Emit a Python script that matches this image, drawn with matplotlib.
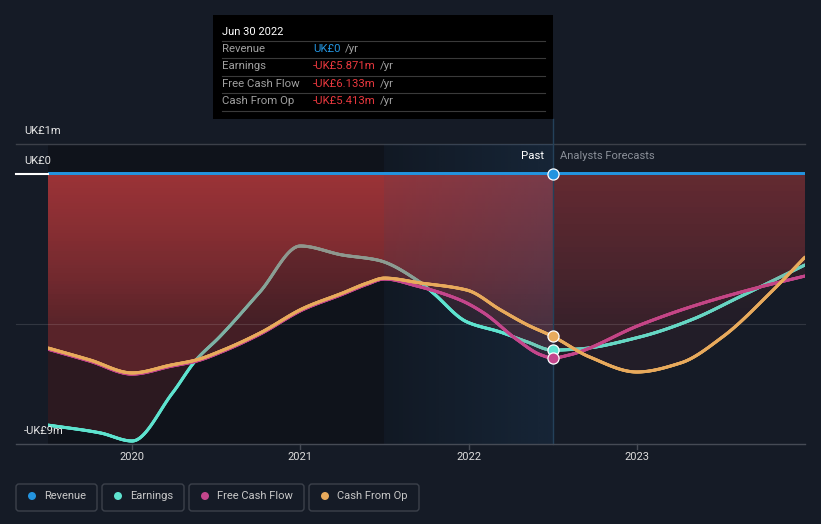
import numpy as np
import matplotlib
matplotlib.use("Agg")
import matplotlib.pyplot as plt
from matplotlib.patches import Polygon, Rectangle, FancyBboxPatch, Circle
from matplotlib.collections import LineCollection
from matplotlib.lines import Line2D
import matplotlib.transforms as mtransforms

plt.rcParams['font.family'] = ['Roboto', 'DejaVu Sans']

# ---------------- data (UK£ m) ----------------
rev_x = [2019.5, 2020.0, 2020.5, 2021.0, 2021.5, 2022.0, 2022.5, 2023.0, 2023.5, 2024.0]
rev_y = [0.0, 0.0, 0.0, 0.0, 0.0, 0.0, 0.0, 0.0, 0.0, 0.0]

earn_x = [2019.5, 2019.81, 2020.0, 2020.24, 2020.38, 2020.52, 2020.76, 2021.0, 2021.25,
          2021.46, 2021.71, 2021.79, 2021.99, 2022.19, 2022.35, 2022.5, 2022.66, 2023.02,
          2023.32, 2023.61, 2024.0]
earn_y = [-8.37, -8.63, -8.9, -7.3, -6.2, -5.43, -3.93, -2.4, -2.7,
          -2.87, -3.6, -3.97, -4.93, -5.27, -5.6, -5.871, -5.83, -5.43,
          -4.87, -4.1, -3.03]

fcf_x = [2019.5, 2019.75, 2020.0, 2020.23, 2020.38, 2020.54, 2020.76, 2021.02, 2021.25,
         2021.4, 2021.5, 2021.69, 2021.95, 2022.09, 2022.29, 2022.43, 2022.5, 2022.6,
         2023.02, 2023.32, 2023.71, 2024.0]
fcf_y = [-5.84, -6.24, -6.67, -6.41, -6.24, -5.91, -5.34, -4.51, -4.01,
         -3.67, -3.5, -3.73, -4.2, -4.63, -5.53, -6.03, -6.133, -6.03,
         -5.03, -4.43, -3.8, -3.4]

cfo_x = [2019.5, 2019.75, 2020.0, 2020.23, 2020.38, 2020.54, 2020.76, 2021.02, 2021.25,
         2021.4, 2021.5, 2021.71, 2021.99, 2022.19, 2022.35, 2022.5, 2022.72, 2023.0,
         2023.26, 2023.51, 2023.81, 2024.0]
cfo_y = [-5.8, -6.2, -6.63, -6.37, -6.2, -5.87, -5.3, -4.47, -3.97,
         -3.63, -3.47, -3.63, -3.87, -4.53, -5.03, -5.413, -6.1, -6.6,
         -6.3, -5.43, -3.87, -2.77]

series_names = ["Revenue", "Earnings", "Free Cash Flow", "Cash From Op"]
series_colors = ["#2394df", "#5ee3cf", "#c4468c", "#e8aa5c"]
tooltip_date = "Jun 30 2022"
tooltip_values = ["UK£0", "-UK£5.871m", "-UK£6.133m", "-UK£5.413m"]
year_ticks = [2020, 2021, 2022, 2023]
y_labels = [(1, "UK£1m"), (0, "UK£0"), (-9, "-UK£9m")]

X0, X1 = 2019.5, 2024.0
Y0, Y1 = -9.0, 1.0
SPLIT = 2022.5
BAND0 = 2021.5

W, H = 821, 524
BG = "#151b26"
RED = np.array([200, 62, 65]) / 255.0


def mono(x, y, xn):
    x = np.asarray(x, float); y = np.asarray(y, float)
    h = np.diff(x); d = np.diff(y) / h
    n = len(x); m = np.zeros(n)
    for i in range(1, n - 1):
        if d[i - 1] * d[i] > 0:
            w1 = 2 * h[i] + h[i - 1]; w2 = h[i] + 2 * h[i - 1]
            m[i] = (w1 + w2) / (w1 / d[i - 1] + w2 / d[i])
    m[0] = d[0]; m[-1] = d[-1]
    idx = np.clip(np.searchsorted(x, xn) - 1, 0, n - 2)
    t = (xn - x[idx]) / h[idx]
    h00 = 2 * t**3 - 3 * t**2 + 1; h10 = t**3 - 2 * t**2 + t
    h01 = -2 * t**3 + 3 * t**2; h11 = t**3 - t**2
    return h00 * y[idx] + h10 * h[idx] * m[idx] + h01 * y[idx + 1] + h11 * h[idx] * m[idx + 1]


def alpha_fn(x, y):
    t = np.clip(-y / 5.0, 0, 1)
    past = 0.38 - 0.22 * t
    fc = 0.18 - 0.105 * t
    return np.where(x <= SPLIT, past, fc)


fig = plt.figure(figsize=(W / 100, H / 100), dpi=100, facecolor=BG)
ax = fig.add_axes([48 / W, 1 - 444 / H, (805 - 48) / W, 300 / H])
ax.set_facecolor("none")
ax.set_axis_off()

PX = fig.dpi_scale_trans


def P(x, y):
    return (x / 100.0, (H - y) / 100.0)


xs = np.linspace(X0, X1, 1200)
ys_rev = mono(rev_x, rev_y, xs)
ys_earn = mono(earn_x, earn_y, xs)
ys_fcf = mono(fcf_x, fcf_y, xs)
ys_cfo = mono(cfo_x, cfo_y, xs)

# background: past darkening
ax.axvspan(X0, SPLIT, ymin=0, ymax=1, color="black", alpha=0.28, lw=0, zorder=0.5)

# gradient fills
nx, ny = 900, 400
gx = np.linspace(X0, X1, nx)
gy = np.linspace(Y0, Y1, ny)
GX, GY = np.meshgrid(gx, gy)
A = alpha_fn(GX, GY)
img = np.zeros((ny, nx, 4))
img[..., :3] = RED
img[..., 3] = A


def grad_fill(yv, z):
    verts = np.column_stack([np.concatenate([[X0], xs, [X1]]),
                             np.concatenate([[0], yv, [0]])])
    poly = Polygon(verts, closed=True, transform=ax.transData, facecolor="none",
                   edgecolor="none")
    ax.add_patch(poly)
    im = ax.imshow(img, extent=[X0, X1, Y0, Y1], origin="lower", aspect="auto",
                   interpolation="nearest", zorder=z)
    im.set_clip_path(poly)


def covered_colors(base, yv, covers):
    c = np.tile(np.array(matplotlib.colors.to_rgb(base)), (len(xs), 1))
    for cov in covers:
        a = alpha_fn(xs, yv)
        mask = (cov < yv - 0.02)
        aa = np.where(mask, a, 0.0)[:, None]
        c = c * (1 - aa) + RED[None, :] * aa
    return c


def draw_line(yv, cols, z, lw=2.2):
    pts = np.column_stack([xs, yv]).reshape(-1, 1, 2)
    segs = np.concatenate([pts[:-1], pts[1:]], axis=1)
    lc = LineCollection(segs, colors=cols[:-1], linewidths=lw, zorder=z,
                        capstyle="round", joinstyle="round")
    ax.add_collection(lc)


grad_fill(ys_earn, 1.0)
grad_fill(ys_fcf, 1.1)
grad_fill(ys_cfo, 1.2)

# highlight band (last past year)
bx = np.linspace(0, 1, 168)
band = np.zeros((60, 168, 4))
band[..., :3] = np.array([40, 80, 120]) / 255.0
band[..., 3] = (0.1 + 0.2 * bx)[None, :]
ax.imshow(band, extent=[BAND0, SPLIT, Y0, Y1], origin="lower", aspect="auto",
          interpolation="bilinear", interpolation_stage="rgba", zorder=1.5)

# inner gridline
gl = mtransforms.blended_transform_factory(PX, ax.transData)
ax.add_line(Line2D([16 / 100, 805 / 100], [-5, -5], transform=gl, color="#ffffff",
                   alpha=0.12, lw=0.8, zorder=1.6, clip_on=False))

# lines
draw_line(ys_earn, covered_colors(series_colors[1], ys_earn, [ys_fcf, ys_cfo]), 2.0)
draw_line(ys_fcf, covered_colors(series_colors[2], ys_fcf, [ys_cfo]), 2.1)
draw_line(ys_cfo, covered_colors(series_colors[3], ys_cfo, []), 2.2)
draw_line(ys_rev + 0.03, covered_colors(series_colors[0], ys_rev, []), 2.3, lw=2.0)

ax.set_xlim(X0, X1)
ax.set_ylim(Y0, Y1)

# grid/axis lines in figure margins
ax.add_line(Line2D([16 / 100, 805 / 100], [1, 1], transform=gl, color="#3c4049",
                   lw=1.0, zorder=0.6, clip_on=False))
ax.add_line(Line2D([16 / 100, 48 / 100], [0, 0], transform=gl, color="#ffffff",
                   lw=1.5, zorder=2.5, clip_on=False))
ax.add_line(Line2D([16 / 100, 805 / 100], [-9, -9], transform=gl, color="#464b55",
                   lw=1.0, zorder=2.5, clip_on=False))

# past/forecast divider line
ax.add_line(Line2D([SPLIT, SPLIT], [Y0, Y1 + 25 / 30], color="#24415a", lw=1.0,
                   zorder=1.7, clip_on=False))

# markers at split
vals_split = [0.0, earn_y[earn_x.index(2022.5)], fcf_y[fcf_x.index(2022.5)],
              cfo_y[cfo_x.index(2022.5)]]
for v, c in zip(vals_split, series_colors):
    ax.plot([SPLIT], [v], marker="o", ms=8, mfc=c, mec="white", mew=0.9,
            zorder=5, clip_on=False)

# x ticks
xt = ax.get_xaxis_transform()
for yr in year_ticks:
    ax.add_line(Line2D([yr, yr], [0, -5 / 300], transform=xt, color="#464b55",
                       lw=1.0, clip_on=False))
    ax.text(yr, -13.5 / 300, str(yr), transform=xt, ha="center", va="center",
            color="#dcdcdc", fontsize=8)

# y labels
for v, s in y_labels:
    ax.text(24 / 100, v + 12.5 / 30, s, transform=gl, ha="left", va="center",
            color="#e6e6e6", fontsize=8)

# Past / Analysts Forecasts
fig.text(*P(544, 156), "Past", transform=PX, ha="right", va="center",
         color="#ffffff", fontsize=8.2)
fig.text(*P(560, 156), "Analysts Forecasts", transform=PX, ha="left", va="center",
         color="#8a8f98", fontsize=8)

# tooltip
fig.patches.append(Rectangle(P(213, 119), 340 / 100, 104 / 100, transform=PX,
                             facecolor="#000000", edgecolor="none", zorder=10))
fig.text(*P(222, 32), tooltip_date, transform=PX, ha="left", va="center",
         color="#ffffff", fontsize=8.0, zorder=11)
for yy in [41, 58, 76, 93, 111]:
    fig.add_artist(Line2D([222 / 100, 545 / 100], [(H - yy) / 100] * 2, transform=PX,
                          color="#3a3a3a", lw=0.8, zorder=11))
renderer = fig.canvas.get_renderer()
row_y = [49, 66, 84, 101]
for i, (name, val) in enumerate(zip(series_names, tooltip_values)):
    fig.text(*P(222, row_y[i]), name, transform=PX, ha="left", va="center",
             color="#a0a0a0", fontsize=8.2, zorder=11)
    vc = "#2394df" if i == 0 else "#e8383e"
    t = fig.text(*P(313, row_y[i]), val, transform=PX, ha="left", va="center",
                 color=vc, fontsize=8.2, zorder=11)
    w = t.get_window_extent(renderer=renderer).width
    fig.text(*P(313 + w + 4, row_y[i]), "/yr", transform=PX, ha="left", va="center",
             color="#a0a0a0", fontsize=8.2, zorder=11)

# legend
boxes = [(16, 97), (102, 184), (189, 304), (309, 419)]
dots = [32, 118, 205, 325]
txts = [44, 130, 217, 337]
for (x0b, x1b), dx, tx, name, c in zip(boxes, dots, txts, series_names, series_colors):
    fig.patches.append(FancyBboxPatch(P(x0b, 511), (x1b - x0b) / 100, 27 / 100,
                                      boxstyle="round,pad=0,rounding_size=0.03",
                                      transform=PX, facecolor="none",
                                      edgecolor="#3c414b", lw=1.0))
    fig.patches.append(Circle(P(dx, 496), 4 / 100, transform=PX, facecolor=c,
                              edgecolor="none"))
    fig.text(*P(tx, 496), name, transform=PX, ha="left", va="center",
             color="#c8c8c8", fontsize=8)

fig.savefig("out.png", dpi=100, facecolor=BG)
